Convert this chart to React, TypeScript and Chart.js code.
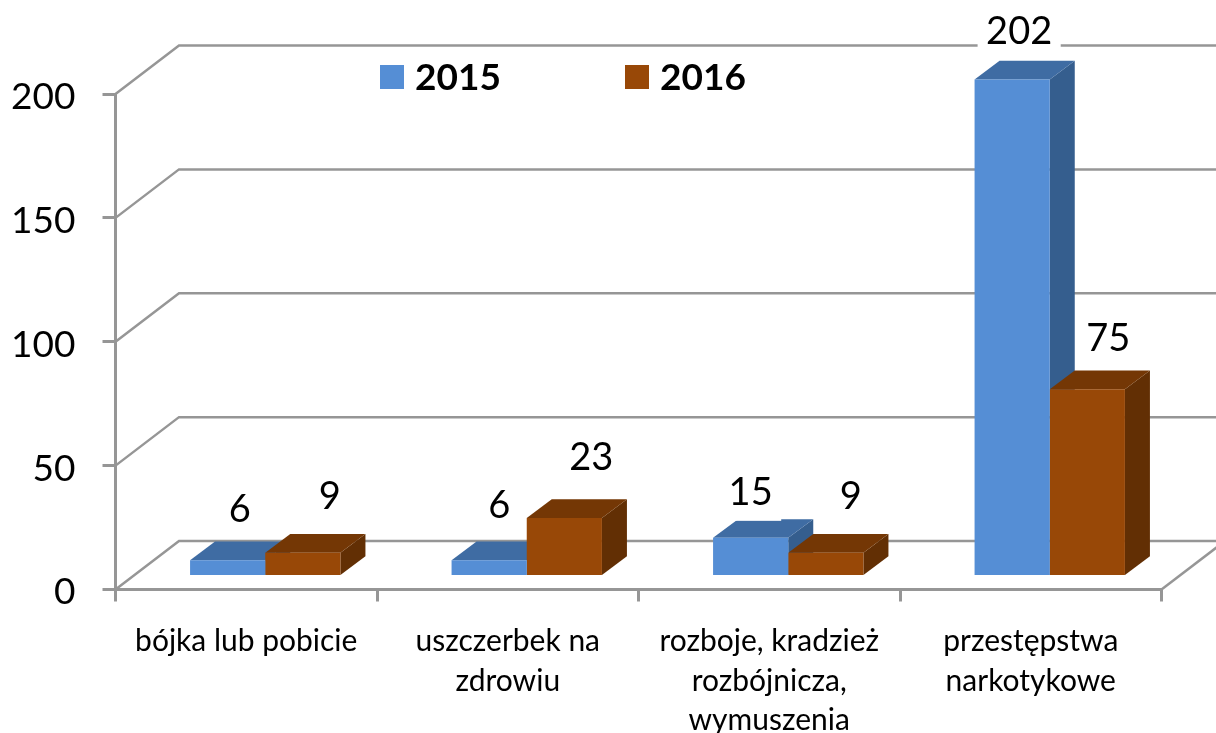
import React, { useEffect, useRef } from "react";
import { Chart, registerables } from "chart.js";

Chart.register(...registerables);

const categories = [
  ["bójka lub pobicie"],
  ["uszczerbek na", "zdrowiu"],
  ["rozboje, kradzież", "rozbójnicza,", "wymuszenia"],
  ["przestępstwa", "narkotykowe"],
];
const seriesNames = ["2015", "2016"];
const values2015 = [6, 6, 15, 202];
const values2016 = [9, 23, 9, 75];
const yTicksMax = 200;
const yTickStep = 50;

const FONT = "Lato, 'Open Sans', sans-serif";
const GRID = "#969696";
const frontColors = ["#558ed5", "#984807"];
const topColors = ["#3f6ca3", "#743705"];
const sideColors = ["#355e8e", "#622f04"];

// 3D projection
const WALL = { dx: 63.5, dy: -48.5 };
const BAR_PLANE = { dx: 19, dy: -14.5 };
const DEPTH = { dx: 25, dy: -18.7 };

// label placement relative to the bar's front-top centre: [dx, baseline dy]
const labelOffsets = [
  [[12, -38], [27, -44]],
  [[10, -42], [27, -48]],
  [[0, -33], [25, -44]],
  [[7, -36], [21, -38]],
];

const faces3d = {
  id: "faces3d",
  afterDatasetsUpdate(chart: any) {
    // bars stand exactly on the zero line instead of half a grid line above it
    const zero = chart.scales.y.getPixelForValue(0);
    chart.data.datasets.forEach((_d: any, di: number) => {
      chart.getDatasetMeta(di).data.forEach((bar: any) => {
        bar.base = zero;
      });
    });
  },
  beforeDatasetsDraw(chart: any) {
    const { ctx, scales, chartArea } = chart;
    const y = scales.y;
    const xs = scales.x;
    ctx.save();
    ctx.strokeStyle = GRID;
    ctx.lineWidth = 2.5;
    for (let v = 0; v <= yTicksMax; v += yTickStep) {
      const py = y.getPixelForValue(v);
      ctx.beginPath();
      ctx.moveTo(chartArea.left, py);
      ctx.lineTo(chartArea.left + WALL.dx, py + WALL.dy);
      ctx.lineTo(chartArea.right + WALL.dx, py + WALL.dy);
      ctx.stroke();
    }
    const base = y.getPixelForValue(0);
    ctx.beginPath();
    ctx.moveTo(xs.right, base);
    ctx.lineTo(xs.right + WALL.dx, base + WALL.dy);
    ctx.stroke();

    ctx.translate(BAR_PLANE.dx, BAR_PLANE.dy);
    chart.data.datasets.forEach((_d: any, di: number) => {
      const meta = chart.getDatasetMeta(di);
      meta.data.forEach((bar: any) => {
        const x0 = bar.x - bar.width / 2;
        const x1 = bar.x + bar.width / 2;
        const top = Math.max(bar.y, chartArea.top);
        const b = bar.base;
        ctx.fillStyle = sideColors[di];
        ctx.beginPath();
        ctx.moveTo(x1, top);
        ctx.lineTo(x1 + DEPTH.dx, top + DEPTH.dy);
        ctx.lineTo(x1 + DEPTH.dx, b + DEPTH.dy);
        ctx.lineTo(x1, b);
        ctx.closePath();
        ctx.fill();
        ctx.fillStyle = topColors[di];
        ctx.beginPath();
        ctx.moveTo(x0, top);
        ctx.lineTo(x0 + DEPTH.dx, top + DEPTH.dy);
        ctx.lineTo(x1 + DEPTH.dx, top + DEPTH.dy);
        ctx.lineTo(x1, top);
        ctx.closePath();
        ctx.fill();
      });
    });
    ctx.restore();
  },
  beforeDatasetDraw(chart: any) {
    chart.ctx.save();
    chart.ctx.translate(BAR_PLANE.dx, BAR_PLANE.dy);
  },
  afterDatasetDraw(chart: any) {
    chart.ctx.restore();
  },
  afterDatasetsDraw(chart: any) {
    const { ctx, chartArea } = chart;
    ctx.save();
    ctx.textBaseline = "alphabetic";
    ctx.textAlign = "center";
    ctx.font = `38px ${FONT}`;
    chart.data.datasets.forEach((ds: any, di: number) => {
      const meta = chart.getDatasetMeta(di);
      meta.data.forEach((bar: any, i: number) => {
        const [ox, oy] = labelOffsets[i][di];
        const cx = bar.x + BAR_PLANE.dx + ox;
        const top = Math.max(bar.y, chartArea.top) + BAR_PLANE.dy;
        const by = top + oy;
        const text = String(ds.data[i]);
        const w = ctx.measureText(text).width + 17;
        ctx.fillStyle = "#ffffff";
        ctx.fillRect(cx - w / 2, by - 32, w, 48);
        ctx.fillStyle = "#000000";
        ctx.fillText(text, cx, by);
      });
    });
    // legend
    const legendX = [380, 625];
    ctx.textAlign = "left";
    ctx.font = `bold 37px ${FONT}`;
    seriesNames.forEach((name, i) => {
      ctx.fillStyle = frontColors[i];
      ctx.fillRect(legendX[i], 65, 24, 24);
      ctx.fillStyle = "#000000";
      ctx.fillText(name, legendX[i] + 35, 90);
    });
    ctx.restore();
  },
};

export default function App() {
  const ref = useRef<HTMLCanvasElement>(null);
  useEffect(() => {
    const chart = new Chart(ref.current as HTMLCanvasElement, {
      type: "bar",
      data: {
        labels: categories as any,
        datasets: [
          { label: seriesNames[0], data: values2015, backgroundColor: frontColors[0] },
          { label: seriesNames[1], data: values2016, backgroundColor: frontColors[1] },
        ],
      },
      options: {
        responsive: false,
        animation: false,
        layout: { padding: { top: 94, right: 54.5, left: 0, bottom: 0 } },
        datasets: { bar: { categoryPercentage: 0.575, barPercentage: 1, borderWidth: 0 } },
        plugins: { legend: { display: false }, tooltip: { enabled: false }, title: { display: false } },
        scales: {
          x: {
            offset: true,
            afterFit: (s: any) => { s.height = 143.5; },
            border: { display: true, color: GRID, width: 3 },
            grid: { display: true, drawOnChartArea: false, drawTicks: true, tickLength: 12, color: GRID, lineWidth: 3 },
            ticks: {
              autoSkip: false,
              maxRotation: 0,
              minRotation: 0,
              padding: 20,
              color: "#000000",
              font: { family: FONT, size: 30, lineHeight: 1.32 },
            },
          },
          y: {
            min: 0,
            max: yTicksMax,
            afterFit: (s: any) => { s.width = 115.5; },
            border: { display: true, color: GRID, width: 3 },
            grid: { display: true, drawOnChartArea: false, drawTicks: true, tickLength: 13, color: GRID, lineWidth: 3 },
            ticks: {
              stepSize: yTickStep,
              padding: 27,
              labelOffset: 3,
              color: "#000000",
              font: { family: FONT, size: 37 },
            },
          },
        },
      } as any,
      plugins: [faces3d],
    });
    return () => chart.destroy();
  }, []);
  return (
    <canvas
      ref={ref}
      width={1216}
      height={733}
      style={{ position: "absolute", left: 0, top: 0, display: "block", width: 1216, height: 733 }}
    />
  );
}
